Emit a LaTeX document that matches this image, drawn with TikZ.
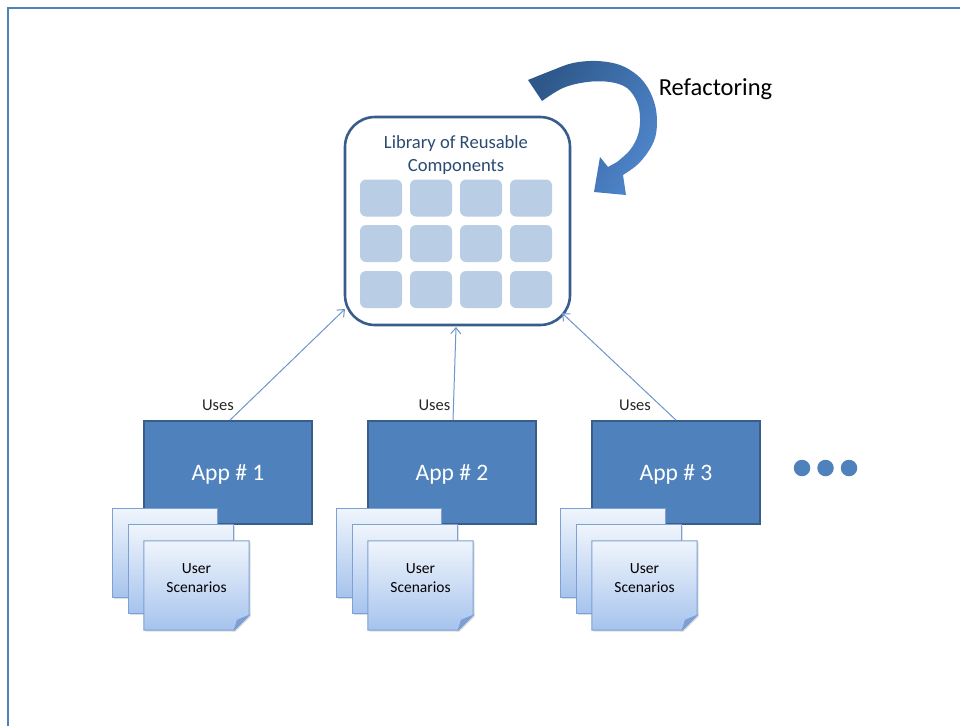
\documentclass[tikz,border=0pt]{standalone}
\usepackage{fontspec}
\setmainfont{Carlito}
\usetikzlibrary{arrows.meta,shadows,calc}

\definecolor{frameblue}{HTML}{4F81BD}
\definecolor{darkstroke}{HTML}{385D8A}
\definecolor{titleblue}{HTML}{2B4B73}
\definecolor{cellblue}{HTML}{B9CDE5}
\definecolor{linkblue}{HTML}{6E96CB}
\definecolor{doctop}{HTML}{F0F5FC}
\definecolor{docbottom}{HTML}{A6C3ED}
\definecolor{docedge}{HTML}{7BA1D6}
\definecolor{folddark}{HTML}{7E9FD0}
\definecolor{refdark}{HTML}{2E588A}
\definecolor{reflight}{HTML}{4E85CB}

\begin{document}
\begin{tikzpicture}[x=1pt,y=-1pt,
  frameline/.style={draw=frameblue,line width=2.4pt},
  libbox/.style={draw=darkstroke,line width=2.6pt,rounded corners=30pt,fill=white,
    minimum width=225pt,minimum height=208pt,inner sep=0pt},
  libtitle/.style={text=titleblue,align=center,font=\fontsize{18.6}{23}\selectfont},
  cell/.style={fill=cellblue,rounded corners=6pt,minimum width=42pt,minimum height=37pt,inner sep=0pt},
  appbox/.style={fill=frameblue,draw=darkstroke,line width=1.8pt,minimum width=168pt,
    minimum height=103pt,inner sep=0pt,text=white,font=\fontsize{23.6}{27}\selectfont},
  apptext/.style={text=white,font=\fontsize{23.6}{27}\selectfont,inner sep=0pt},
  useslabel/.style={text=black!85,font=\fontsize{16.5}{18}\selectfont,inner sep=0pt},
  usesarrow/.style={draw=linkblue,line width=1pt,-{Straight Barb[length=6pt,width=10pt]}},
  docsheet/.style={shade,top color=doctop,bottom color=docbottom,draw=docedge,line width=1pt,
    minimum width=105pt,minimum height=89pt,inner sep=0pt,
    drop shadow={shadow xshift=1.5pt,shadow yshift=-1.5pt,opacity=0.25}},
  docframe/.style={minimum width=105pt,minimum height=89pt,inner sep=0pt},
  doctext/.style={align=center,font=\fontsize{15.5}{19}\selectfont,text=black},
  dot/.style={circle,fill=frameblue,minimum size=16.5pt,inner sep=0pt},
  reflabel/.style={text=black,font=\fontsize{24.5}{28}\selectfont}
]
\useasboundingbox (0,0) rectangle (960,726);
\fill[white] (0,0) rectangle (960,726);

% page frame (top and left edges)
\draw[frameline] (8,726) -- (8,8) -- (960,8);

% library of reusable components
\node[libbox] (lib) at (457.5,221) {};
\node[libtitle] (libtitle) at (456,155) {Library of Reusable\\Components};
\foreach \cx [count=\ci] in {381,431,481,531}
  \foreach \cy [count=\ri] in {198,243.5,289.5}
    \node[cell] (cell-\ci-\ri) at (\cx,\cy) {};

% curved refactoring arrow
\shade[left color=refdark,right color=reflight,shading angle=60]
  plot[smooth,tension=0.6] coordinates {(528,80) (553,70) (573,63) (597,61) (620,65) (637,75)
    (648,88) (655,105) (657,122) (655,138) (648,152) (637,165) (623,175)}
  -- (626,195) -- (594,192) -- (600,157) -- (608,167)
  -- plot[smooth,tension=0.6] coordinates {(617,162) (630,150) (638,135) (640,118) (637,102)
    (627,88) (610,82) (587,82) (563,88) (542,101)}
  -- cycle;
\node[reflabel] (refac) at (715.5,89) {Refactoring};

% applications with their user scenarios
\foreach \i in {1,2,3} {
  \pgfmathsetmacro{\dx}{224*(\i-1)}
  \node[appbox] (app\i) at (228+\dx,472.5) {};
  \node[apptext] (apptext\i) at (228+\dx,474) {App \# \i};
  \node[docsheet] (docA\i) at (164.5+\dx,553) {};
  \node[docsheet] (docB\i) at (180.5+\dx,569) {};
  \node[docframe] (docC\i) at (196.5+\dx,585.5) {};
  \path[shade,top color=doctop,bottom color=docbottom,draw=docedge,line width=1pt,
    drop shadow={shadow xshift=1.5pt,shadow yshift=-1.5pt,opacity=0.25}]
    (docC\i.north west) -- (docC\i.north east) -- ($(docC\i.south east)+(0,-15)$)
    -- ($(docC\i.south east)+(-15,0)$) -- (docC\i.south west) -- cycle;
  \filldraw[fill=folddark,draw=docedge,line width=0.8pt]
    ($(docC\i.south east)+(0,-15)$) -- ($(docC\i.south east)+(-15,0)$)
    -- ($(docC\i.south east)+(-12,-10)$) -- cycle;
  \node[doctext] (doctext\i) at (196.5+\dx,578.5) {User\\Scenarios};
}

% "uses" links into the library
\coordinate (libin1) at (345,309);
\coordinate (libin2) at (456,327);
\coordinate (libin3) at (562,313);
\draw[usesarrow] ([xshift=2pt]app1.north) -- (libin1);
\draw[usesarrow] ([xshift=1pt]app2.north) -- (libin2);
\draw[usesarrow] (app3.north) -- (libin3);
\node[useslabel] (uses1) at (218,405.5) {Uses};
\node[useslabel] (uses2) at (434.5,405.5) {Uses};
\node[useslabel] (uses3) at (635,405.5) {Uses};

% continuation dots
\foreach \x [count=\k] in {802,825.5,849}
  \node[dot] (dot\k) at (\x,468) {};
\end{tikzpicture}
\end{document}
